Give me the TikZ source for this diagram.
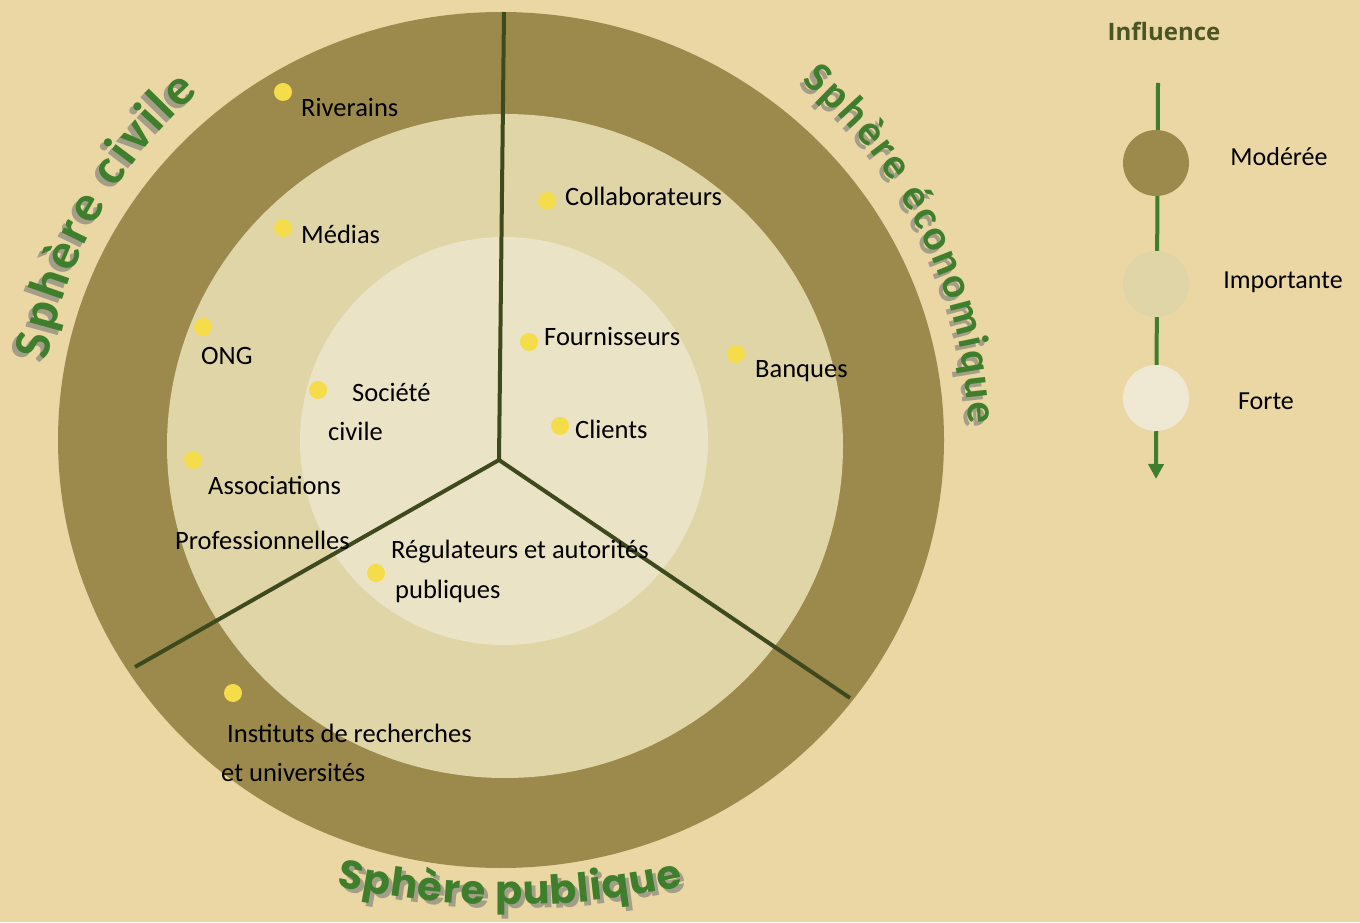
\documentclass[tikz,border=0pt]{standalone}
\usepackage{fontspec}
\setmainfont{Carlito}
\newfontfamily\osbold{Open Sans}
\newfontfamily\popfont{Poppins}
\usetikzlibrary{decorations.text,arrows.meta}
\definecolor{bgc}{HTML}{EAD7A3}
\definecolor{ringout}{HTML}{9C8A4D}
\definecolor{ringmid}{HTML}{E0D5A7}
\definecolor{ringin}{HTML}{EBE3C6}
\definecolor{legin}{HTML}{EFE8D2}
\definecolor{dotc}{HTML}{F5DC4B}
\definecolor{sepc}{HTML}{3E4A1E}
\definecolor{tgreen}{HTML}{3E7E2C}
\definecolor{tshadow}{HTML}{A39E88}
\definecolor{infl}{HTML}{4B5524}
\begin{document}
\begin{tikzpicture}[x=1pt,y=1pt,
  dot/.style={circle,fill=dotc,minimum size=18pt,inner sep=0pt},
  lab/.style={anchor=west,inner sep=0pt,font=\fontsize{26.5}{30}\selectfont,text=black},
  leglab/.style={inner sep=0pt,font=\fontsize{26}{30}\selectfont,text=black},
  sep/.style={draw=sepc,line width=4pt},
  legdisc/.style={circle,minimum size=66pt,inner sep=0pt}]
\fill[bgc] (0,0) rectangle (1360,922);
\useasboundingbox (0,0) rectangle (1360,922);
% rings
\fill[ringout] (501,482) ellipse [x radius=443, y radius=428];
\fill[ringmid] (505,476) ellipse [x radius=338, y radius=332];
\fill[ringin] (504,481) circle (204);
% separators
\coordinate (hub) at (499,462);
\coordinate (top) at (504,910);
\coordinate (ll) at (135,255);
\coordinate (lr) at (850,224);
\draw[sep] (hub) -- (top);
\draw[sep] (hub) -- (ll);
\draw[sep] (hub) -- (lr);
% dots
\node[dot] (d1) at (283,830) {};
\node[dot] (d2) at (283,694) {};
\node[dot] (d3) at (203,595) {};
\node[dot] (d4) at (318,532) {};
\node[dot] (d5) at (193,462) {};
\node[dot] (d6) at (376,349) {};
\node[dot] (d7) at (233,229) {};
\node[dot] (d8) at (547,721) {};
\node[dot] (d9) at (529,580) {};
\node[dot] (d10) at (736,568) {};
\node[dot] (d11) at (560,496) {};
% labels
\node[lab] (t1) at (301,815) {Riverains};
\node[lab] (t2) at (301,688) {Médias};
\node[lab] (t3) at (201,566) {ONG};
\node[lab] (t4a) at (352,530) {Société};
\node[lab] (t4b) at (328,491) {civile};
\node[lab] (t5a) at (208,437) {Associations};
\node[lab] (t5b) at (175,382) {Professionnelles};
\node[lab] (t6a) at (391,370) {Régulateurs et autorités};
\node[lab] (t6b) at (395,331) {publiques};
\node[lab] (t7a) at (227,189) {Instituts de recherches};
\node[lab] (t7b) at (221,150) {et universités};
\node[lab] (t8) at (565,726) {Collaborateurs};
\node[lab] (t9) at (544,586) {Fournisseurs};
\node[lab] (t10) at (755,551) {Banques};
\node[lab] (t11) at (575,493) {Clients};
% curved titles
\coordinate (C) at (501,482);
\coordinate (Cp) at (510,817);
\foreach \dx/\dy/\col in {-4/-4/tshadow,0/0/tgreen}{
  \path[decorate,decoration={text along path,text align={fit to path},
     text={|\bfseries\fontsize{52}{58}\selectfont\color{\col}|Sphère civile}}]
     ([shift={(170:460)},xshift=\dx,yshift=\dy]C) arc[start angle=170,end angle=131,radius=460];
  \path[decorate,decoration={text along path,text align={fit to path},
     text={|\bfseries\fontsize{43}{50}\selectfont\color{\col}|Sphère économique}}]
     ([shift={(50:468)},xshift=\dx,yshift=\dy]C) arc[start angle=50,end angle=2,radius=468];
}
\foreach \dx/\dy/\col in {4/-4/tshadow,0/0/tgreen}{
  \path[decorate,decoration={text along path,text align={fit to path},
     text={|\popfont\bfseries\fontsize{40}{46}\selectfont\color{\col}|Sphère publique}}]
     ([shift={(257.5:800)},xshift=\dx,yshift=\dy]Cp) arc[start angle=257.5,end angle=282.5,radius=800];
}
% legend
\node[inner sep=0pt,font=\osbold\bfseries\fontsize{24}{28}\selectfont,text=infl] (inf) at (1164,891) {Influence};
\coordinate (ls) at (1158,839);
\coordinate (le) at (1156,443);
\draw[draw=tgreen,line width=4pt,-{Triangle[length=15pt,width=15pt]}] (ls) -- (le);
\node[legdisc,fill=ringout] (m1) at (1156,759) {};
\node[legdisc,fill=ringmid] (m2) at (1156,638) {};
\node[legdisc,fill=legin] (m3) at (1156,524) {};
\node[leglab] (l1) at (1279,765) {Modérée};
\node[leglab] (l2) at (1283,640) {Importante};
\node[leglab] (l3) at (1266,521) {Forte};
\end{tikzpicture}
\end{document}
